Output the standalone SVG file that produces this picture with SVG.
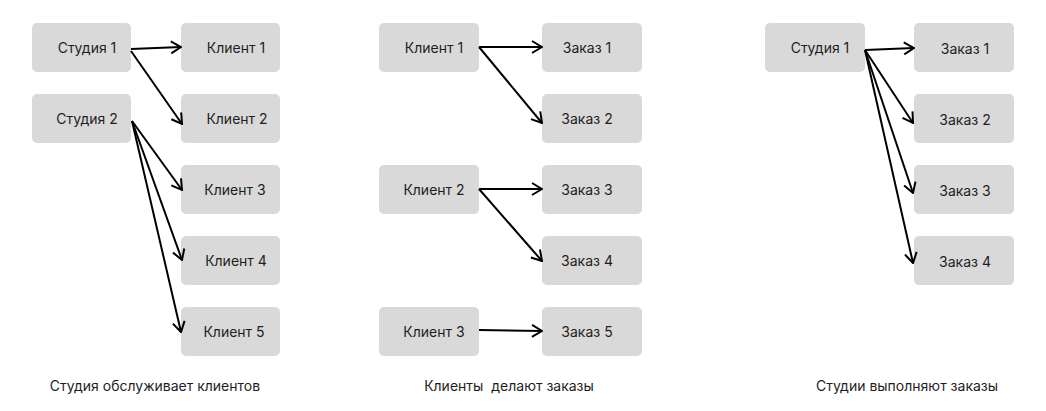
<svg xmlns="http://www.w3.org/2000/svg" width="1046" height="411" viewBox="0 0 1046 411">
<style>
.box{fill:#d9d9d9}
.t{font-family:Inter,"Noto Sans",sans-serif;font-size:14px;fill:#1e1e1e;text-anchor:middle;dominant-baseline:central}
.cap{font-family:Inter,"Noto Sans",sans-serif;font-size:14px;fill:#1e1e1e;text-anchor:middle}
.c{stroke:#000;stroke-width:2;fill:none;marker-end:url(#a)}
</style>
<defs>
<marker id="a" viewBox="0 0 12 14" refX="11" refY="7" markerWidth="12" markerHeight="14" markerUnits="userSpaceOnUse" orient="auto">
<path d="M1,1 L11,7 L1,13" fill="none" stroke="#000" stroke-width="2"/>
</marker>
</defs>
<rect width="1046" height="411" fill="#fff"/>
<g id="s1"><rect class="box" x="32" y="23" width="99" height="49" rx="5"/><text class="t" x="87" y="47">Студия 1</text></g>
<g id="s2"><rect class="box" x="32" y="94" width="99" height="49" rx="5"/><text class="t" x="87" y="118">Студия 2</text></g>
<g id="k1"><rect class="box" x="181" y="23" width="99" height="49" rx="5"/><text class="t" x="236" y="47">Клиент 1</text></g>
<g id="k2"><rect class="box" x="181" y="94" width="99" height="49" rx="5"/><text class="t" x="237" y="118">Клиент 2</text></g>
<g id="k3"><rect class="box" x="181" y="165" width="99" height="49" rx="5"/><text class="t" x="235" y="189">Клиент 3</text></g>
<g id="k4"><rect class="box" x="181" y="236" width="99" height="49" rx="5"/><text class="t" x="236" y="260">Клиент 4</text></g>
<g id="k5"><rect class="box" x="181" y="307" width="99" height="49" rx="5"/><text class="t" x="234" y="331">Клиент 5</text></g>

<g id="m1"><rect class="box" x="379" y="23" width="100" height="49" rx="5"/><text class="t" x="434" y="47">Клиент 1</text></g>
<g id="m2"><rect class="box" x="379" y="165" width="100" height="49" rx="5"/><text class="t" x="434" y="189">Клиент 2</text></g>
<g id="m3"><rect class="box" x="379" y="307" width="100" height="49" rx="5"/><text class="t" x="434" y="331">Клиент 3</text></g>
<g id="z1"><rect class="box" x="542" y="23" width="100" height="49" rx="5"/><text class="t" x="587" y="47">Заказ 1</text></g>
<g id="z2"><rect class="box" x="542" y="94" width="100" height="49" rx="5"/><text class="t" x="587" y="118">Заказ 2</text></g>
<g id="z3"><rect class="box" x="542" y="165" width="100" height="49" rx="5"/><text class="t" x="587" y="189">Заказ 3</text></g>
<g id="z4"><rect class="box" x="542" y="236" width="100" height="49" rx="5"/><text class="t" x="587" y="260">Заказ 4</text></g>
<g id="z5"><rect class="box" x="542" y="307" width="100" height="49" rx="5"/><text class="t" x="587" y="331">Заказ 5</text></g>

<g id="r1"><rect class="box" x="765" y="23" width="100" height="49" rx="5"/><text class="t" x="820" y="47">Студия 1</text></g>
<g id="o1"><rect class="box" x="914" y="23" width="100" height="49" rx="5"/><text class="t" x="965" y="48">Заказ 1</text></g>
<g id="o2"><rect class="box" x="914" y="94" width="100" height="49" rx="5"/><text class="t" x="965" y="119">Заказ 2</text></g>
<g id="o3"><rect class="box" x="914" y="165" width="100" height="49" rx="5"/><text class="t" x="965" y="190">Заказ 3</text></g>
<g id="o4"><rect class="box" x="914" y="236" width="100" height="49" rx="5"/><text class="t" x="965" y="261">Заказ 4</text></g>

<g id="connectors">
<path class="c" d="M131,49 L181,47"/>
<path class="c" d="M131,51 L182,124"/>
<path class="c" d="M132,121 L182,190"/>
<path class="c" d="M132,121 L182,260"/>
<path class="c" d="M132,121 L181,332"/>
<path class="c" d="M479,47 L542,47"/>
<path class="c" d="M479,47 L542,123"/>
<path class="c" d="M479,189 L542,189"/>
<path class="c" d="M479,189 L542,261"/>
<path class="c" d="M479,330 L542,331"/>
<path class="c" d="M865,50 L914,48"/>
<path class="c" d="M865,50 L913,123"/>
<path class="c" d="M865,50 L913,193"/>
<path class="c" d="M865,50 L913,263"/>
</g>
<g id="captions">
<text class="cap" x="155" y="391">Студия обслуживает клиентов</text>
<text class="cap" x="509" y="391" xml:space="preserve">Клиенты  делают заказы</text>
<text class="cap" x="907" y="391">Студии выполняют заказы</text>
</g>
</svg>
